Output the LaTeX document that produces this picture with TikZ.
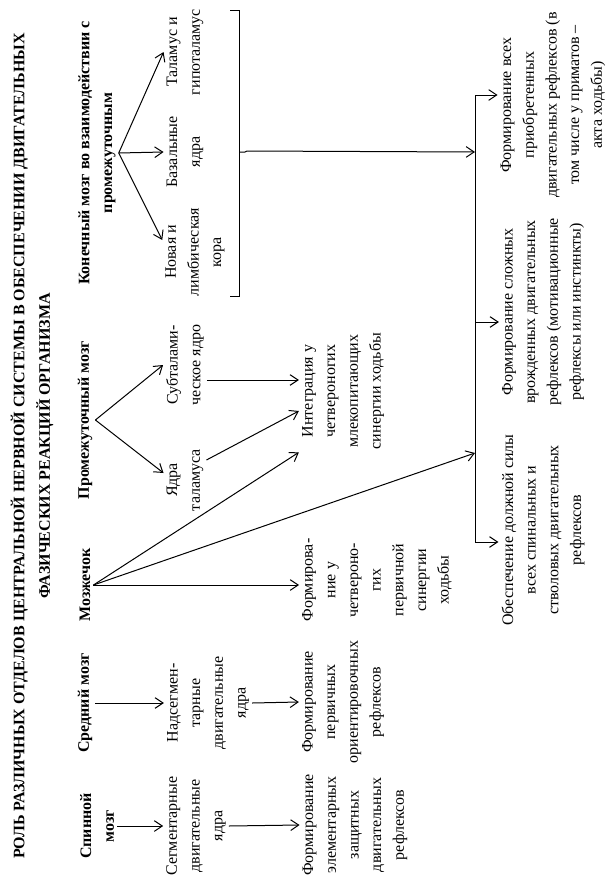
\documentclass[tikz,border=0pt]{standalone}
\usepackage{fontspec}
\setmainfont{Liberation Serif}
\usetikzlibrary{arrows.meta,calc}

\begin{document}
\begin{tikzpicture}[x=0.75pt,y=-0.75pt,>={Straight Barb[length=6pt,width=8pt]},line width=0.75pt,
  lbl/.style={rotate=90,align=center,inner sep=2pt,font=\fontsize{12pt}{17pt}\selectfont},
  head/.style={lbl,font=\fontsize{12pt}{17pt}\selectfont\bfseries}]
\useasboundingbox (0,0) rectangle (615,879);
\node[head,font=\fontsize{12pt}{19pt}\selectfont\bfseries] (title) at (32,446) {РОЛЬ РАЗЛИЧНЫХ ОТДЕЛОВ ЦЕНТРАЛЬНОЙ НЕРВНОЙ СИСТЕМЫ В ОБЕСПЕЧЕНИИ ДВИГАТЕЛЬНЫХ\\ФАЗИЧЕСКИХ РЕАКЦИЙ ОРГАНИЗМА};
\node[head] (spinal) at (97,826) {Спинной\\мозг};
\node[head] (mid) at (85,703) {Средний мозг};
\node[head] (cereb) at (85,585) {Мозжечок};
\node[head] (dienc) at (85,420) {Промежуточный мозг};
\node[head] (telen) at (97,153) {Конечный мозг во взаимодействии с\\промежуточным};
\node[lbl] (segm) at (196,826) {Сегментарные\\двигательные\\ядра};
\node[lbl] (supra) at (208,703) {Надсегмен-\\тарные\\двигательные\\ядра};
\node[lbl] (thal) at (185,480) {Ядра\\таламуса};
\node[lbl] (subth) at (185,365) {Субталами-\\ческое ядро};
\node[lbl] (cortex) at (195,252) {Новая и\\лимбическая\\кора};
\node[lbl] (basal) at (185,152) {Базальные\\ядра};
\node[lbl] (hypo) at (185,52) {Таламус и\\гипоталамус};
\node[lbl] (elem) at (355,825) {Формирование\\элементарных\\защитных\\двигательных\\рефлексов};
\node[lbl] (orient) at (343,702) {Формирование\\первичных\\ориентировочных\\рефлексов};
\node[lbl] (synprim) at (377,580) {Формирова-\\ние у\\четвероно-\\гих\\первичной\\синергии\\ходьбы};
\node[lbl] (integr) at (343,391) {Интеграция у\\четвероногих\\млекопитающих\\синергии ходьбы};
\node[lbl] (force) at (543,530) {Обеспечение должной силы\\всех спинальных и\\стволовых двигательных\\рефлексов};
\node[lbl] (innate) at (543,312) {Формирование сложных\\врожденных двигательных\\рефлексов (мотивационные\\рефлексы или инстинкты)};
\node[lbl] (acquired) at (553,105) {Формирование всех\\приобретенных\\двигательных рефлексов (в\\том числе у приматов –\\акта ходьбы)};
\coordinate (t1) at (475,95);
\coordinate (t2) at (475,322);
\coordinate (t3) at (475,542);
\coordinate (tb) at (475,152);
\coordinate (tc) at (475,453);
\coordinate (brtop) at (230,10);
\coordinate (brbot) at (230,296);
\coordinate (brmid) at (239,152);
\draw[->] (spinal.south) -- (segm.north);
\draw[->] (segm.south) -- (elem.north);
\draw[->] (mid.south) -- (supra.north);
\draw[->] (supra.south) -- (orient.north);
\draw[->] (cereb.south) -- (cereb.south -| synprim.north);
\draw[->] (cereb.south) -- (integr.north west);
\draw[->] (cereb.south) -- (tc);
\draw[->] (dienc.south) -- ($(thal.north)+(0,-7)$);
\draw[->] (dienc.south) -- (subth.north);
\draw[->] ($(thal.south)+(0,-20)$) -- ($(integr.north)+(0,20)$);
\draw[->] ($(subth.south)+(0,15)$) coordinate (s1) -- (s1 -| integr.north);
\draw[->] (telen.south) -- ($(cortex.north)+(0,-12)$);
\draw[->] (telen.south) -- (basal.north);
\draw[->] (telen.south) -- (hypo.north);
\draw (brtop) -- (brtop -| brmid) -- (brbot -| brmid) -- (brbot);
\draw[->] (brmid) -- ++(6,0) -- ++(2,-1) -- (tb);
\draw (t1) -- (t3);
\draw[->] (t1) -- (t1 -| acquired.north);
\draw[->] (t2) -- (t2 -| innate.north);
\draw[->] (t3) -- (t3 -| force.north);
\end{tikzpicture}
\end{document}
